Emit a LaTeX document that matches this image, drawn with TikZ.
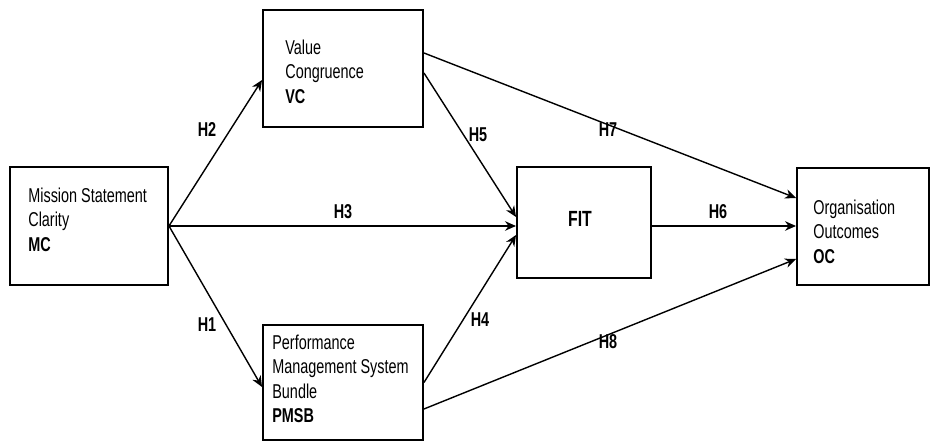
\documentclass[tikz,border=0pt]{standalone}
\usepackage{fontspec}
\setmainfont{Liberation Sans}
\newfontfamily\narrowsans[FakeStretch=0.72]{Liberation Sans}
\usetikzlibrary{arrows.meta,positioning,calc}

\begin{document}
\begin{tikzpicture}[
  construct/.style={draw,line width=1.1pt,inner sep=0pt},
  boxtext/.style={anchor=north west,align=left,inner sep=0pt,
    font=\narrowsans\fontsize{11.4}{13.9}\selectfont},
  hyp/.style={inner sep=1pt,font=\narrowsans\bfseries\fontsize{11.4}{12}\selectfont},
  link/.style={-{Stealth[length=2.2mm,width=1.9mm]},line width=0.8pt}
]
  \useasboundingbox (0,0) rectangle (18.6,8.84);

  % Constructs
  \node[construct,minimum width=3.16cm,minimum height=2.36cm] (mc) at (1.78,4.32) {};
  \node[construct,minimum width=3.2cm,minimum height=2.34cm] (vc) at (6.86,7.47) {};
  \node[construct,minimum width=3.2cm,minimum height=2.3cm] (pmsb) at (6.86,1.19) {};
  \node[construct,minimum width=2.68cm,minimum height=2.22cm] (fit) at (11.68,4.39) {};
  \node[construct,minimum width=2.64cm,minimum height=2.34cm] (oc) at (17.26,4.31) {};

  % Texts in the boxes
  \node[boxtext] (mctext) at (0.56,5.09) {Mission Statement\\Clarity\\\textbf{MC}};
  \node[boxtext] (vctext) at (5.7,8.05) {Value\\Congruence\\\textbf{VC}};
  \node[boxtext] (pmsbtext) at (5.44,2.15) {Performance\\Management System\\Bundle\\\textbf{PMSB}};
  \node[boxtext] (octext) at (16.26,4.85) {Organisation\\Outcomes\\\textbf{OC}};
  \node[hyp,font=\narrowsans\bfseries\fontsize{12.5}{14}\selectfont] (fittext) at (11.6,4.46) {FIT};

  % Paths from MC
  \draw[link] (mc.east) -- ([yshift=-0.23cm]vc.west);
  \draw[link] (mc.east) -- (fit.west |- mc.east);
  \draw[link] (mc.east) -- ([yshift=-0.09cm]pmsb.west);
  % Paths into FIT
  \draw[link] ([yshift=-0.09cm]vc.east) -- ([yshift=0.11cm]fit.west);
  \draw[link] (pmsb.east) -- ([yshift=-0.25cm]fit.west);
  % Paths into OC
  \draw[link] ([yshift=0.31cm]vc.east) -- ([yshift=0.57cm]oc.west);
  \draw[link] (fit.east |- mc.east) -- (oc.west |- mc.east);
  \draw[link] ([yshift=-0.53cm]pmsb.east) -- ([yshift=-0.65cm]oc.west);

  % Hypotheses
  \node[hyp] (h2) at (4.14,6.24) {H2};
  \node[hyp] (h1) at (4.14,2.34) {H1};
  \node[hyp] (h3) at (6.86,4.6) {H3};
  \node[hyp] (h5) at (9.56,6.14) {H5};
  \node[hyp] (h4) at (9.6,2.44) {H4};
  \node[hyp] (h7) at (12.16,6.24) {H7};
  \node[hyp] (h6) at (14.36,4.6) {H6};
  \node[hyp] (h8) at (12.16,2.0) {H8};
\end{tikzpicture}
\end{document}
